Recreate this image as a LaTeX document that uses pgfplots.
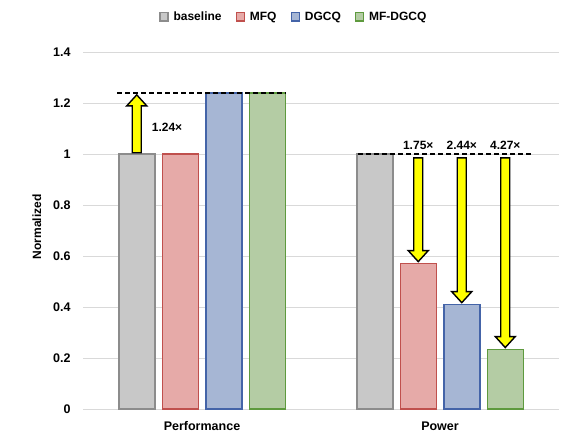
\documentclass[border=0pt]{standalone}
\usepackage{pgfplots}
\pgfplotsset{compat=1.18}
\usepackage{fontspec}
\setmainfont{Liberation Sans}

\definecolor{basefill}{RGB}{200,200,200}
\definecolor{basedraw}{RGB}{140,140,140}
\definecolor{mfqfill}{RGB}{230,170,168}
\definecolor{mfqdraw}{RGB}{192,80,77}
\definecolor{dgfill}{RGB}{166,182,212}
\definecolor{dgdraw}{RGB}{68,100,168}
\definecolor{mdfill}{RGB}{180,204,164}
\definecolor{mddraw}{RGB}{94,154,62}
\definecolor{arrowyellow}{RGB}{255,255,0}

% block arrow: x, start y, tip y, signed head length
\newcommand{\blockarrow}[4]{%
  \draw[black, line width=1.4pt, fill=arrowyellow, line join=miter]
    ([xshift=-4.5pt]axis cs:#1,#2) --
    ([xshift=-4.5pt,yshift=#4]axis cs:#1,#3) --
    ([xshift=-10pt,yshift=#4]axis cs:#1,#3) --
    (axis cs:#1,#3) --
    ([xshift=10pt,yshift=#4]axis cs:#1,#3) --
    ([xshift=4.5pt,yshift=#4]axis cs:#1,#3) --
    ([xshift=4.5pt]axis cs:#1,#2) -- cycle;}

\begin{document}
\begin{tikzpicture}
\begin{axis}[
  scale only axis, width=476pt, height=357pt,
  ybar=7.5pt, bar width=36pt,
  xmin=-0.5, xmax=1.5, ymin=0, ymax=1.4,
  xtick={0,1}, xticklabels={Performance,Power},
  ytick={0,0.2,0.4,0.6,0.8,1,1.2,1.4},
  yticklabels={0,0.2,0.4,0.6,0.8,1,1.2,1.4},
  major tick length=0pt,
  axis line style={draw=none},
  ymajorgrids, grid style={color=black!15, line width=0.8pt},
  ticklabel style={font=\fontsize{12.5}{14}\selectfont\bfseries},
  yticklabel style={xshift=-9pt},
  xticklabel style={yshift=-9pt},
  ylabel={Normalized},
  every axis y label/.style={at={(rel axis cs:-0.097,0.51)}, rotate=90, anchor=center,
    font=\fontsize{12}{14}\selectfont\bfseries},
  legend columns=-1,
  legend style={at={(rel axis cs:0.443,1.098)}, anchor=center, draw=none,
    font=\fontsize{12}{14}\selectfont\bfseries,
    /tikz/every odd column/.append style={column sep=3pt},
    /tikz/every even column/.append style={column sep=12pt}},
  legend image code/.code={\draw[#1, line width=1.3pt] (0pt,-4pt) rectangle (8pt,4.5pt);},
  clip=false,
]
\addplot[fill=basefill, draw=basedraw, line width=1.5pt] coordinates {(0,1) (1,1)};
\addplot[fill=mfqfill, draw=mfqdraw, line width=1.5pt] coordinates {(0,1) (1,0.571)};
\addplot[fill=dgfill, draw=dgdraw, line width=1.5pt] coordinates {(0,1.24) (1,0.41)};
\addplot[fill=mdfill, draw=mddraw, line width=1.5pt] coordinates {(0,1.24) (1,0.234)};
\legend{baseline,MFQ,DGCQ,MF-DGCQ}

\draw[black, line width=1.8pt, dash pattern=on 5pt off 3pt]
  (axis cs:-0.357,1.24) -- (axis cs:0.35,1.24);
\draw[black, line width=1.8pt, dash pattern=on 5pt off 3pt]
  (axis cs:0.655,1.0) -- (axis cs:1.39,1.0);

\blockarrow{-0.2742}{1.005}{1.232}{-11pt}
\blockarrow{0.9086}{0.985}{0.578}{11pt}
\blockarrow{1.0914}{0.985}{0.417}{11pt}
\blockarrow{1.2742}{0.985}{0.241}{11pt}

\node[font=\fontsize{12}{14}\selectfont\bfseries] at (axis cs:-0.147,1.106) {1.24×};
\node[font=\fontsize{12}{14}\selectfont\bfseries] at (axis cs:0.9086,1.035) {1.75×};
\node[font=\fontsize{12}{14}\selectfont\bfseries] at (axis cs:1.0914,1.035) {2.44×};
\node[font=\fontsize{12}{14}\selectfont\bfseries] at (axis cs:1.2742,1.035) {4.27×};

\path[draw=none] (rel axis cs:-0.1744,-0.1064) rectangle (rel axis cs:1.0252,1.1457);
\end{axis}
\end{tikzpicture}
\end{document}
